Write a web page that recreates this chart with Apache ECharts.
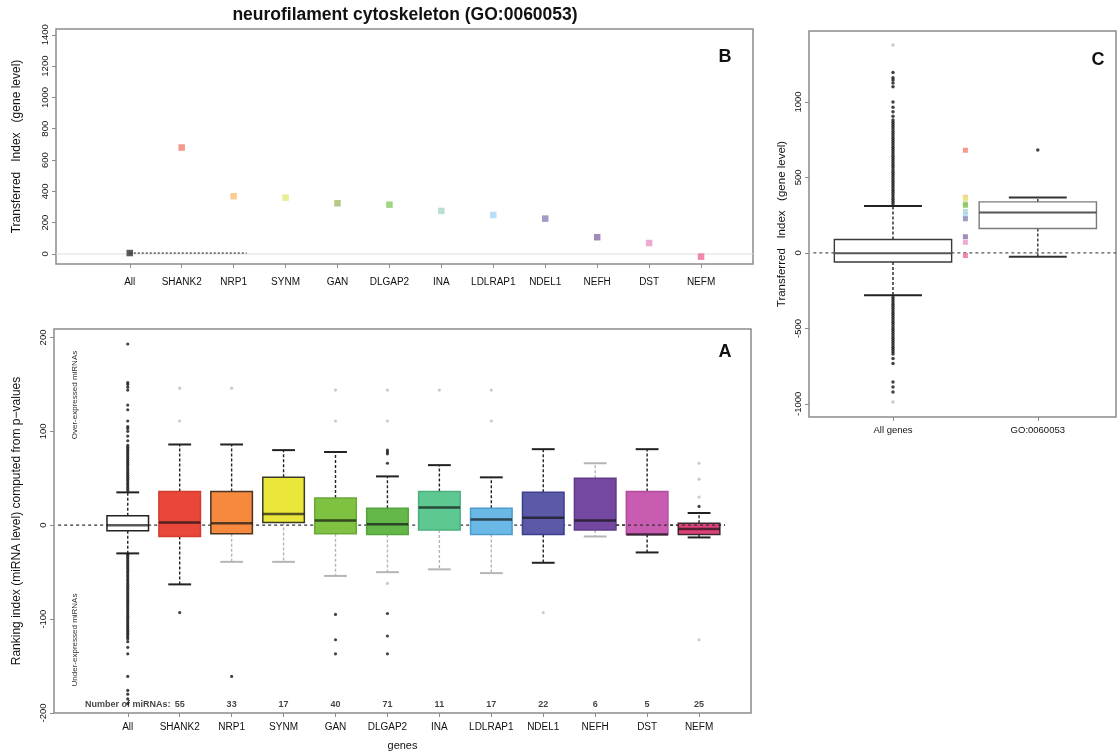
<!DOCTYPE html>
<html>
<head>
<meta charset="utf-8">
<title>neurofilament cytoskeleton (GO:0060053)</title>
<script src="https://cdn.jsdelivr.net/npm/echarts@6/dist/echarts.min.js"></script>
<style>
html, body { margin: 0; padding: 0; background: #fff; }
#charts { width: 1118px; height: 752px; }
</style>
</head>
<body>
<div id="charts"></div>
<script>
var FONT = '"Liberation Sans", Arial, sans-serif';

// genes, left to right (panels A and B)
var genes = ['All', 'SHANK2', 'NRP1', 'SYNM', 'GAN', 'DLGAP2', 'INA', 'LDLRAP1', 'NDEL1', 'NEFH', 'DST', 'NEFM'];

// B: transferred index (gene level)
var transferred = [6, 680, 369, 360, 324, 315, 275, 249, 226, 107, 70, -17];

// A: number of miRNAs per gene (SHANK2 .. NEFM)
var miRNACount = [55, 33, 17, 40, 71, 11, 17, 22, 6, 5, 25];

// A: ranking index (miRNA level), boxplot stats
var rankLow  = [-30, -63, -39, -39, -54, -50, -47, -51, -40, -12, -29, -13];
var rankQ1   = [-6, -12, -9, 3, -9, -10, -5, -10, -10, -5, -10, -10];
var rankMed  = [0, 3, 2, 12, 5, 1, 19, 6, 8, 5, -10, -4];
var rankQ3   = [10, 36, 36, 51, 29, 18, 36, 18, 35, 50, 36, 2];
var rankHigh = [35, 86, 86, 80, 78, 52, 64, 51, 81, 66, 81, 13];

// A: outliers of "All" (dense runs above and below the whiskers)
var allRankUp = [37, 39, 41, 43, 45, 47, 49, 51, 53, 55, 57, 59, 61, 63, 65, 67, 69, 71, 73, 75, 77, 79, 81, 83, 85,
  90, 95, 100, 103, 105, 111, 123, 128, 144, 147, 150, 152, 193];
var allRankDown = [-31, -33, -35, -37, -39, -41, -43, -45, -47, -49, -51, -53, -55, -57, -59, -61, -63, -65, -67, -69,
  -71, -73, -75, -77, -79, -81, -83, -85, -87, -89, -91, -93, -95, -97, -99, -101, -103, -105, -107, -109, -111, -113,
  -115, -117, -119, -121, -124, -130, -137, -161, -176, -180, -185, -190];
var rankOutDark = [allRankUp.concat(allRankDown), [-93], [-161], [], [-95, -122, -137],
  [80, 78, 76, 66, -94, -118, -137], [], [], [], [], [], [20]];
var rankOutGray = [[], [146, 111], [146], [], [144, 111], [144, 111, -62], [144], [144, 111], [-93], [], [],
  [30, 49, 66, -122]];

// C: transferred index, all genes vs GO:0060053
var cGroups = ['All genes', 'GO:0060053'];
var cLow  = [-280, -26];
var cQ1   = [-60, 162];
var cMed  = [-2, 268];
var cQ3   = [89, 338];
var cHigh = [310, 367];
var cAllUp = [325, 340, 355, 370, 385, 400, 415, 430, 445, 460, 475, 490, 505, 520, 535, 550, 565, 580, 595, 610,
  625, 640, 655, 670, 685, 700, 715, 730, 745, 760, 775, 790, 805, 820, 835, 850, 865, 880, 905, 935, 965, 1000,
  1100, 1125, 1145, 1160, 1195];
var cAllDown = [-295, -310, -325, -340, -355, -370, -385, -400, -415, -430, -445, -460, -475, -490, -505, -520, -535,
  -550, -565, -580, -595, -610, -625, -640, -655, -670, -700, -733, -855, -888, -921];
var cOutDark = [cAllUp.concat(cAllDown), [681]];
var cOutGray = [[1377, -988], []];

// tick values
var bTicks = [0, 200, 400, 600, 800, 1000, 1200, 1400];
var aTicks = [-200, -100, 0, 100, 200];
var cTicks = [-1000, -500, 0, 500, 1000];

// colours
var pointColors = ['#333333', '#f4806e', '#fbbf74', '#e4e87e', '#a3bd6c', '#86cc5c', '#a9d6c4', '#a6d6f6',
  '#8a84b8', '#8a6ea8', '#e896c8', '#f06a96'];
var boxFill = ['#ffffff', '#e8473a', '#f5893e', '#ebe63a', '#7fc241', '#64b84a', '#5ec893', '#6ab8e6',
  '#5a5aa8', '#7448a0', '#c85cb0', '#e0407a'];
var boxEdge = ['#222222', '#d23c30', '#4a3422', '#3a3a2a', '#6aa838', '#55a43f', '#4bb07e', '#4c9cce',
  '#3e3e8e', '#5e3a88', '#b04c9c', '#3a2a30'];
var DARK = '#222222', GRAY = '#b5b5b5';
var whiskerUp = [DARK, DARK, DARK, DARK, DARK, DARK, DARK, DARK, DARK, GRAY, DARK, DARK];
var whiskerLow = [DARK, DARK, GRAY, GRAY, GRAY, GRAY, GRAY, GRAY, DARK, GRAY, DARK, DARK];

var myChart = echarts.init(document.getElementById('charts'));

var genePos = genes.map(function (g, i) { return i + 1; });

// box + whiskers drawn through the axes of the grid
function boxRenderer(st) {
    return function (params, api) {
        var i = params.dataIndex;
        var x = api.value(0);
        var lo = api.coord([x, api.value(1)]);
        var q1 = api.coord([x, api.value(2)]);
        var md = api.coord([x, api.value(3)]);
        var q3 = api.coord([x, api.value(4)]);
        var hi = api.coord([x, api.value(5)]);
        var unit = api.size([1, 0])[0];
        var hb = unit * st.boxWex / 2, hc = unit * st.capWex / 2;
        var cx = md[0];
        return {
            type: 'group',
            children: [
                {type: 'line', shape: {x1: cx, y1: q3[1], x2: cx, y2: hi[1]},
                    style: {stroke: st.up[i], lineWidth: 1.4, lineDash: [3, 2]}},
                {type: 'line', shape: {x1: cx, y1: q1[1], x2: cx, y2: lo[1]},
                    style: {stroke: st.low[i], lineWidth: 1.4, lineDash: [3, 2]}},
                {type: 'line', shape: {x1: cx - hc, y1: hi[1], x2: cx + hc, y2: hi[1]},
                    style: {stroke: st.up[i], lineWidth: 2}},
                {type: 'line', shape: {x1: cx - hc, y1: lo[1], x2: cx + hc, y2: lo[1]},
                    style: {stroke: st.low[i], lineWidth: 2}},
                {type: 'rect', shape: {x: cx - hb, y: q3[1], width: 2 * hb, height: q1[1] - q3[1]},
                    style: {fill: st.fill[i], stroke: st.edge[i], lineWidth: st.edgeWidth}},
                {type: 'line', shape: {x1: cx - hb, y1: md[1], x2: cx + hb, y2: md[1]},
                    style: {stroke: st.med[i], lineWidth: st.medWidth}}
            ]
        };
    };
}

function boxData(pos, lo, q1, md, q3, hi) {
    return pos.map(function (p, i) { return [p, lo[i], q1[i], md[i], q3[i], hi[i]]; });
}

function outlierPoints(lists, pos) {
    var pts = [];
    lists.forEach(function (vals, i) {
        vals.forEach(function (v) { pts.push([pos[i], v]); });
    });
    return pts;
}

function frame(left, top, right, bottom) {
    return {left: left, top: top, width: right - left, height: bottom - top, show: true,
        borderColor: '#8c8c8c', borderWidth: 1.5, backgroundColor: 'transparent', outerBoundsMode: 'none'};
}

function valueX(idx, min, max, ticks, names, fs, margin) {
    return {
        gridIndex: idx, type: 'value', min: min, max: max, position: 'bottom',
        axisLine: {show: false, onZero: false}, splitLine: {show: false},
        axisTick: {show: true, customValues: ticks, length: 4, lineStyle: {color: '#8c8c8c'}},
        axisLabel: {show: true, customValues: ticks, margin: margin, fontSize: fs, color: '#111', fontFamily: FONT,
            formatter: function (v) { return names[Math.round(v) - 1]; }}
    };
}

function valueY(idx, min, max, ticks, name, nameSize, nameGap) {
    return {
        gridIndex: idx, type: 'value', min: min, max: max, position: 'left',
        axisLine: {show: false, onZero: false}, splitLine: {show: false},
        axisTick: {show: true, customValues: ticks, length: 4, lineStyle: {color: '#8c8c8c'}},
        axisLabel: {show: true, customValues: ticks, rotate: 90, margin: 6, fontSize: 9.5, color: '#111',
            fontFamily: FONT, formatter: function (v) { return String(v); }},
        name: name, nameLocation: 'middle', nameRotate: 90, nameGap: nameGap,
        nameTextStyle: {fontSize: nameSize, color: '#111', fontFamily: FONT}
    };
}

function refLine(xi, x1, x2, y, color, dash, z) {
    return {
        type: 'line', xAxisIndex: xi, yAxisIndex: xi, data: [[x1, y], [x2, y]], showSymbol: false, symbol: 'none',
        silent: true, z: z, lineStyle: {color: color, width: 1.2, type: dash}
    };
}

// number of miRNAs row, written inside panel A
var countLabels = [{name: 'Number of miRNAs:', value: [1, -191]}];
miRNACount.forEach(function (n, i) { countLabels.push({name: String(n), value: [i + 2, -191]}); });

// B points, coloured per gene
var bPoints = transferred.map(function (v, i) {
    return {value: [i + 1, v], itemStyle: {color: pointColors[i]}};
});
// same gene values repeated beside the GO box in C
var cPoints = [];
transferred.forEach(function (v, i) {
    if (i > 0) cPoints.push({value: [1.5, v], itemStyle: {color: pointColors[i]}});
});

var txt = function (x, y, text, font, rot, fill) {
    return {type: 'text', x: x, y: y, rotation: rot || 0, silent: true,
        style: {text: text, font: font, fill: fill || '#111', align: 'center', verticalAlign: 'middle',
            textAlign: 'center', textVerticalAlign: 'middle'}};
};

option = {
    animation: false,
    grid: [
        frame(56, 29, 753, 264),   // B
        frame(54, 329, 751, 713),  // A
        frame(809, 31, 1116, 417)  // C
    ],
    xAxis: [
        valueX(0, -0.42, 13.0, genePos, genes, 10, 13),
        Object.assign(valueX(1, -0.42, 13.0, genePos, genes, 10, 9), {
            name: 'genes', nameLocation: 'middle', nameGap: 27,
            nameTextStyle: {fontSize: 11, color: '#111', fontFamily: FONT}
        }),
        valueX(2, 0.42, 2.54, [1, 2], cGroups, 9.5, 8)
    ],
    yAxis: [
        valueY(0, -64, 1437, bTicks, 'Transferred   Index   (gene level)', 12, 33),
        valueY(1, -200, 209, aTicks, 'Ranking index (miRNA level) computed from p\u2212values', 12, 31),
        valueY(2, -1087, 1470, cTicks, 'Transferred   Index   (gene level)', 11.5, 21)
    ],
    graphic: [
        txt(405, 15, 'neurofilament cytoskeleton (GO:0060053)', 'bold 17.5px ' + FONT),
        txt(725, 57, 'B', 'bold 18px ' + FONT),
        txt(725, 352, 'A', 'bold 18px ' + FONT),
        txt(1098, 60, 'C', 'bold 18px ' + FONT),
        txt(75, 395, 'Over-expressed miRNAs', '8px ' + FONT, Math.PI / 2, '#333'),
        txt(75, 640, 'Under-expressed miRNAs', '8px ' + FONT, Math.PI / 2, '#333')
    ],
    series: [
        // ---- B ----
        refLine(0, -0.42, 13.0, 0, '#dddddd', 'solid', 1),
        refLine(0, 1, 3.25, transferred[0], '#333333', [2, 2], 2),
        {
            type: 'scatter', xAxisIndex: 0, yAxisIndex: 0, symbol: 'rect', symbolSize: 6.5, z: 3,
            data: bPoints
        },
        // ---- A ----
        refLine(1, -0.34, 12.5, 0, '#333333', [3, 3], 1),
        {
            type: 'custom', xAxisIndex: 1, yAxisIndex: 1, z: 2,
            renderItem: boxRenderer({
                boxWex: 0.8, capWex: 0.44, fill: boxFill, edge: boxEdge, edgeWidth: 1.5,
                up: whiskerUp, low: whiskerLow,
                med: genes.map(function () { return 'rgba(20,20,20,0.7)'; }), medWidth: 2.5
            }),
            encode: {x: 0, y: [1, 2, 3, 4, 5]},
            data: boxData(genePos, rankLow, rankQ1, rankMed, rankQ3, rankHigh)
        },
        {
            type: 'scatter', xAxisIndex: 1, yAxisIndex: 1, symbolSize: 3.2, z: 3,
            itemStyle: {color: '#141414'}, data: outlierPoints(rankOutDark, genePos)
        },
        {
            type: 'scatter', xAxisIndex: 1, yAxisIndex: 1, symbolSize: 3.2, z: 3,
            itemStyle: {color: '#bdbdbd'}, data: outlierPoints(rankOutGray, genePos)
        },
        refLine(1, 10.4, 12.5, 0, '#333333', [3, 3], 4),
        {
            type: 'scatter', xAxisIndex: 1, yAxisIndex: 1, symbolSize: 1, z: 5, silent: true,
            itemStyle: {color: 'transparent'},
            label: {show: true, position: 'inside', formatter: '{b}', fontSize: 9, fontWeight: 'bold',
                color: '#111', fontFamily: FONT},
            data: countLabels
        },
        // ---- C ----
        refLine(2, 0.45, 2.54, 0, '#555555', [3, 3], 1),
        {
            type: 'custom', xAxisIndex: 2, yAxisIndex: 2, z: 2,
            renderItem: boxRenderer({
                boxWex: 0.81, capWex: 0.4, fill: ['#ffffff', '#ffffff'], edge: ['#3a3a3a', '#7a7a7a'], edgeWidth: 1.4,
                up: [DARK, '#333333'], low: [DARK, '#333333'],
                med: ['#555555', '#555555'], medWidth: 2
            }),
            encode: {x: 0, y: [1, 2, 3, 4, 5]},
            data: boxData([1, 2], cLow, cQ1, cMed, cQ3, cHigh)
        },
        {
            type: 'scatter', xAxisIndex: 2, yAxisIndex: 2, symbolSize: 3.5, z: 3,
            itemStyle: {color: '#141414'}, data: outlierPoints(cOutDark, [1, 2])
        },
        {
            type: 'scatter', xAxisIndex: 2, yAxisIndex: 2, symbolSize: 3.5, z: 3,
            itemStyle: {color: '#bdbdbd'}, data: outlierPoints(cOutGray, [1, 2])
        },
        {
            type: 'scatter', xAxisIndex: 2, yAxisIndex: 2, symbol: 'rect', symbolSize: 5, z: 3,
            data: cPoints
        }
    ]
};

myChart.setOption(option);
</script>
</body>
</html>
